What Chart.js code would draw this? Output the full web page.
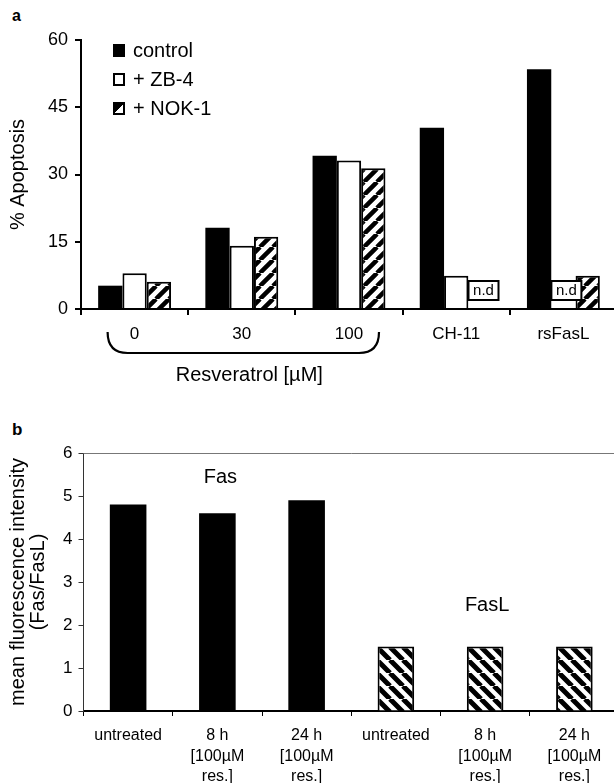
<!DOCTYPE html>
<html>
<head>
<meta charset="utf-8">
<script src="https://cdn.jsdelivr.net/npm/chart.js@4.4.0/dist/chart.umd.min.js"></script>
<style>
  html, body { margin: 0; padding: 0; background: #fff; overflow: hidden; }
  body { width: 614px; height: 783px; position: relative; font-family: "Liberation Sans", Arial, sans-serif; color: #000; }
  .tag { position: absolute; font-weight: bold; line-height: 1; }
  #chartA { position: absolute; left: 0; top: 0; }
  #chartB { position: absolute; left: 0; top: 400px; }
  #legendA { position: absolute; left: 113px; top: 36px; font-size: 20px; }
  #legendA li { display: flex; align-items: center; height: 29px; }
  #legendA .box { display: inline-block; width: 8px; height: 9px; border: 2px solid #000; margin-right: 8px; }
</style>
</head>
<body>
<div class="tag" style="left:12px;top:8px;font-size:16px;">a</div>
<div class="tag" style="left:12px;top:421px;font-size:17px;">b</div>
<canvas id="chartA" width="620" height="400"></canvas>
<div id="legendA"></div>
<canvas id="chartB" width="620" height="383"></canvas>
<script>
// panel a
const groupsA = ['0', '30', '100', 'CH-11', 'rsFasL'];
const controlA = [5.2, 18.1, 34.2, 40.4, 53.5];
const zb4A = [8.0, 14.1, 33.1, 7.4, null];
const nok1A = [6.1, 16.1, 31.4, null, 7.4];
const ticksA = [0, 15, 30, 45, 60];

// panel b
const groupsB = ['untreated', ['8 h', '[100µM', 'res.]'], ['24 h', '[100µM', 'res.]'],
                 'untreated', ['8 h', '[100µM', 'res.]'], ['24 h', '[100µM', 'res.]']];
const fasB = [4.8, 4.6, 4.9, null, null, null];
const faslB = [null, null, null, 1.5, 1.5, 1.5];
const ticksB = [0, 1, 2, 3, 4, 5, 6];

const FONT = '"Liberation Sans", Arial, sans-serif';

function hatch(ctx, dir, size, lw) {
  const c = document.createElement('canvas');
  c.width = c.height = size;
  const g = c.getContext('2d');
  g.fillStyle = '#fff';
  g.fillRect(0, 0, size, size);
  g.strokeStyle = '#000';
  g.lineWidth = lw;
  g.beginPath();
  [-size, 0, size].forEach(k => {
    if (dir === '/') { g.moveTo(k, size); g.lineTo(k + size, 0); }
    else { g.moveTo(k, 0); g.lineTo(k + size, size); }
  });
  g.stroke();
  return ctx.createPattern(c, 'repeat');
}

const ctxA = document.getElementById('chartA').getContext('2d');
const ctxB = document.getElementById('chartB').getContext('2d');

// brace under the resveratrol doses, "n.d" boxes
const extrasA = {
  id: 'extrasA',
  afterDatasetsDraw(chart) {
    const {ctx, scales: {x, y}} = chart;
    const base = y.getPixelForValue(0);
    ctx.save();
    ctx.strokeStyle = '#000';
    ctx.lineWidth = 2.2;
    const l = x.getPixelForValue(0) - 27, r = x.getPixelForValue(2) + 30;
    const t = base + 23, b = base + 44;
    ctx.beginPath();
    ctx.moveTo(l, t);
    ctx.quadraticCurveTo(l, b, l + 20, b);
    ctx.lineTo(r - 20, b);
    ctx.quadraticCurveTo(r, b, r, t);
    ctx.stroke();
    ctx.fillStyle = '#000';
    ctx.font = '20px ' + FONT;
    ctx.textAlign = 'center';
    ctx.textBaseline = 'middle';
    ctx.fillText('Resveratrol [µM]', (l + r) / 2 + 6, base + 66);

    ctx.font = '15px ' + FONT;
    chart.data.datasets.forEach((ds, d) => {
      const meta = chart.getDatasetMeta(d);
      ds.data.forEach((v, i) => {
        if (v !== null) return;
        const bx = meta.data[i].x + 3;
        const w = 30, h = 19;
        ctx.fillStyle = '#fff';
        ctx.fillRect(bx - w / 2, base - 9 - h, w, h);
        ctx.lineWidth = 2;
        ctx.strokeRect(bx - w / 2, base - 9 - h, w, h);
        ctx.fillStyle = '#000';
        ctx.fillText('n.d', bx, base - 9 - h / 2);
      });
    });
    ctx.restore();
  }
};

const chartA = new Chart(ctxA, {
  type: 'bar',
  data: {
    labels: groupsA,
    datasets: [
      { label: 'control', data: controlA, backgroundColor: '#000', borderColor: '#000', borderWidth: 0 },
      { label: '+ ZB-4', data: zb4A, backgroundColor: '#fff', borderColor: '#000', borderWidth: 2 },
      { label: '+ NOK-1', data: nok1A, backgroundColor: hatch(ctxA, '/', 13, 4.5), borderColor: '#000', borderWidth: 2 }
    ]
  },
  options: {
    responsive: false,
    animation: false,
    layout: { padding: { top: 40, right: 3, bottom: 0, left: 0 } },
    datasets: { bar: { categoryPercentage: 0.68, barPercentage: 1 } },
    plugins: { legend: { display: false }, tooltip: { enabled: false } },
    scales: {
      x: {
        afterFit: s => { s.height = 91; },
        border: { display: true, color: '#000', width: 2 },
        grid: { drawOnChartArea: false, tickLength: 6, color: '#000', lineWidth: 2 },
        ticks: { color: '#000', padding: 9, font: { family: FONT, size: 17 } }
      },
      y: {
        min: 0, max: 60,
        afterFit: s => { s.width = 81; },
        afterBuildTicks: s => { s.ticks = ticksA.map(v => ({ value: v })); },
        border: { display: true, color: '#000', width: 2 },
        grid: { drawOnChartArea: false, tickLength: 6, color: '#000', lineWidth: 2 },
        ticks: { color: '#000', padding: 7, font: { family: FONT, size: 18 } },
        title: { display: true, text: '% Apoptosis', color: '#000', padding: { top: 6, bottom: 0 },
                 font: { family: FONT, size: 20 } }
      }
    }
  },
  plugins: [extrasA]
});

// html legend
const iconCss = [
  'background:#000;',
  'background:#fff;',
  'background:linear-gradient(to bottom right, #000 0 50%, #fff 50% 100%);'
];
document.getElementById('legendA').innerHTML = `
  <ul style="list-style:none;margin:0;padding:0;">
    ${chartA.data.datasets.map((ds, i) => `
      <li><span class="box" style="${iconCss[i]}"></span><span>${ds.label}</span></li>`).join('')}
  </ul>`;

// labels Fas / FasL and top frame line
const extrasB = {
  id: 'extrasB',
  afterDraw(chart) {
    const {ctx, chartArea, scales: {x, y}} = chart;
    ctx.save();
    ctx.strokeStyle = '#777';
    ctx.lineWidth = 1;
    ctx.beginPath();
    ctx.moveTo(chartArea.left, chartArea.top + 0.5);
    ctx.lineTo(chartArea.right, chartArea.top + 0.5);
    ctx.stroke();
    ctx.fillStyle = '#000';
    ctx.font = '20px ' + FONT;
    ctx.textAlign = 'center';
    ctx.textBaseline = 'middle';
    ctx.fillText('Fas', x.getPixelForValue(1) + 3, y.getPixelForValue(5.43));
    ctx.fillText('FasL', x.getPixelForValue(4) + 2, y.getPixelForValue(2.46));
    ctx.restore();
  }
};

new Chart(ctxB, {
  type: 'bar',
  data: {
    labels: groupsB,
    datasets: [
      { label: 'Fas', data: fasB, backgroundColor: '#000', borderWidth: 0 },
      { label: 'FasL', data: faslB, backgroundColor: hatch(ctxB, '\\', 13, 5), borderColor: '#000', borderWidth: 2 }
    ]
  },
  options: {
    responsive: false,
    animation: false,
    layout: { padding: { top: 53, right: 1, bottom: 0, left: 0 } },
    datasets: { bar: { grouped: false, categoryPercentage: 1, barPercentage: 0.41 } },
    plugins: { legend: { display: false }, tooltip: { enabled: false } },
    scales: {
      x: {
        afterFit: s => { s.height = 72; },
        border: { display: true, color: '#000', width: 2 },
        grid: { drawOnChartArea: false, tickLength: 5, color: '#000', lineWidth: 1 },
        ticks: { color: '#000', padding: 9, font: { family: FONT, size: 16, lineHeight: 1.3 } }
      },
      y: {
        min: 0, max: 6,
        afterFit: s => { s.width = 83.5; },
        afterBuildTicks: s => { s.ticks = ticksB.map(v => ({ value: v })); },
        border: { display: true, color: '#333', width: 1 },
        grid: { drawOnChartArea: false, tickLength: 5, color: '#333', lineWidth: 1 },
        ticks: { color: '#000', padding: 6, font: { family: FONT, size: 17 } },
        title: { display: true, text: ['mean fluorescence intensity', '(Fas/FasL)'], color: '#000',
                 padding: { top: 8, bottom: 0 }, font: { family: FONT, size: 20, lineHeight: 1.0 } }
      }
    }
  },
  plugins: [extrasB]
});
</script>
</body>
</html>
